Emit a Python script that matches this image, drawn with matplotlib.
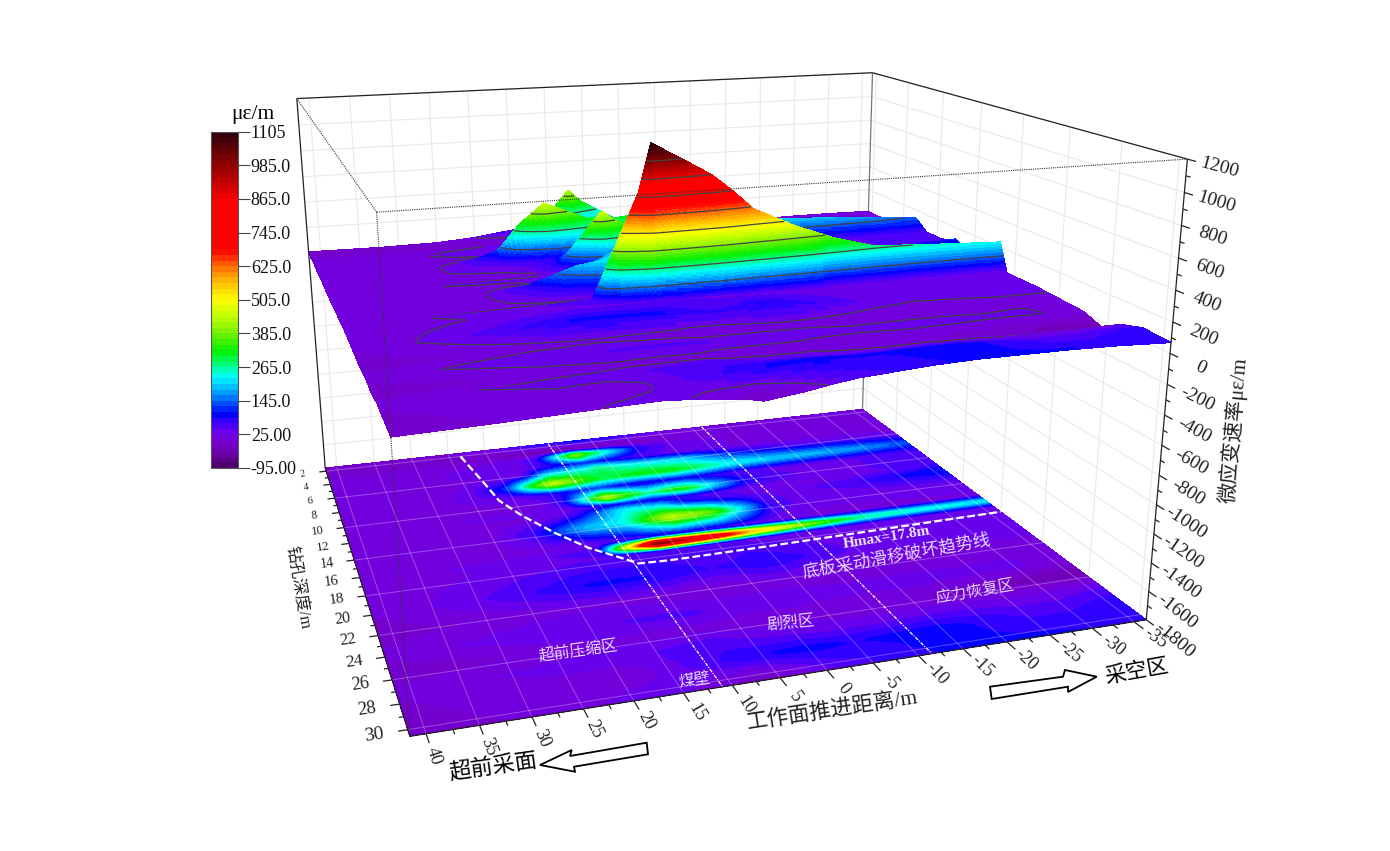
import numpy as np
import matplotlib
matplotlib.use('Agg')
import matplotlib.pyplot as plt
from matplotlib.cm import ScalarMappable
from matplotlib.colors import BoundaryNorm, LinearSegmentedColormap
from matplotlib.patches import Polygon
from mpl_toolkits.mplot3d import Axes3D  # noqa: F401
from mpl_toolkits.mplot3d.art3d import Line3DCollection

plt.rcParams['font.family'] = ['Liberation Serif', 'Noto Sans CJK SC']

W, H = 1390, 851

# advance distance (m) and borehole depth (m) of the measured grid
advance = [41.5, 32, 25, 20, 17, 14, 8.5, 7, 3, 0, -2.5, -5, -10, -15, -20, -25, -30, -36.5]
depth = [1.5, 2.8, 3.7, 5, 6, 7.5, 8.8, 10.2, 11.2, 12, 13.6, 15.7, 16.5, 17.3, 20, 22, 24, 25.5, 27, 28.5, 30.5]

# strain rate, one row per depth
strain = np.array([
    [5, 0, 5, 25, 50, 70, 90, 95, 80, 60, 40, 30, 15, 10, 10, 15, 15, 10],
    [0, -5, -10, -15, -25, -40, -45, -40, -30, -20, -10, 0, 5, 5, 10, 10, 10, 5],
    [10, 15, 20, 25, 35, 60, 430, 340, 200, 90, 60, 40, 30, 20, 15, 20, 20, 15],
    [10, 15, 30, 35, 30, 60, 100, 90, 60, 50, 40, 35, 30, 20, 20, 20, 20, 15],
    [5, 15, 20, 25, 40, 190, 240, 280, 230, 210, 205, 195, 120, 80, 60, 50, 40, 30],
    [10, 15, 30, 120, 320, 460, 320, 300, 320, 330, 320, 300, 240, 215, 200, 190, 170, 135],
    [5, 10, 30, 35, 60, 80, 110, 90, 60, 70, 80, 70, 50, 40, 40, 40, 50, 60],
    [5, 5, 10, 15, 20, 80, 460, 390, 270, 330, 330, 240, 90, 50, 40, 40, 50, 60],
    [5, 20, 30, 30, 30, 35, 70, 80, 70, 60, 60, 50, 25, 20, 20, 35, 45, 70],
    [5, 10, 15, 20, 30, 60, 210, 230, 200, 120, 80, 60, 40, 40, 50, 70, 90, 110],
    [10, 15, 20, 70, 130, 190, 240, 300, 450, 420, 380, 280, 70, 30, 30, 30, 35, 40],
    [10, 10, 15, 20, 20, 25, 50, 60, 50, 40, 40, 35, 25, 20, 20, 20, 20, 20],
    [15, 25, 35, 45, 50, 60, 775, 1105, 970, 865, 745, 610, 470, 360, 280, 265, 250, 235],
    [15, 20, 30, 35, 40, 40, 45, 50, 45, 40, 40, 35, 35, 30, 30, 25, 30, 30],
    [5, 35, 60, 80, 90, 90, 85, 75, 65, 70, 85, 80, 60, 40, 30, 30, 30, 30],
    [-5, 5, 15, 20, 20, 15, 10, 5, 10, 15, 20, 20, 15, 10, 10, 15, 20, 20],
    [10, 30, 40, 40, 45, 50, 50, 45, 40, 35, 30, 30, 30, 35, 35, 30, 30, 10],
    [-10, 0, 15, 20, 20, 15, 15, 10, 10, 15, 20, 15, 10, 5, -5, -15, -30, -35],
    [10, 25, 30, 30, 35, 50, 60, 50, 40, 35, 30, 30, 30, 35, 35, 30, 30, 40],
    [0, 15, 20, 15, 20, 40, 70, 80, 90, 95, 90, 85, 90, 95, 80, 60, 60, 80],
    [-10, 5, 20, 30, 35, 25, -10, -30, 0, 30, 50, 60, 80, 90, 90, 90, 85, 70],
], dtype=float)

# white trend line on the floor map
trend_x = [23.5, 22.3, 21.8, 20.1, 17.5, 14.8, 11.9, 10.5, 6.9, -5.5, -36.5]
trend_y = [2, 6.7, 8.9, 11.2, 13.8, 16.0, 17.6, 18.4, 18.5, 18.4, 18.0]
zone_lines = [11, -11.5]

x_ticks = list(range(40, -36, -5))
y_ticks = list(range(2, 31, 2))
z_ticks = list(range(-1800, 1201, 200))
cbar_ticks = [-95, 25, 145, 265, 385, 505, 625, 745, 865, 985, 1105]
cbar_labels = ['-95.00', '25.00', '145.0', '265.0', '385.0', '505.0', '625.0', '745.0', '865.0', '985.0', '1105']

x0, x1 = advance[0], advance[-1]
y0, y1 = depth[0], depth[-1]
z0, z1 = -1800, 1200

# where the eight box corners sit in the picture, used to set up the camera
corners = [(x0, y0, z0), (x0, y1, z0), (x1, y0, z0), (x1, y1, z0),
           (x0, y0, z1), (x0, y1, z1), (x1, y0, z1), (x1, y1, z1)]
corners_px = [(325, 467), (410.5, 737), (862.5, 409.5), (1146, 620),
              (296.5, 99), (376.7, 212.3), (873, 73), (1187, 158)]


def fit_camera():
    # linear fit of a 3x4 camera matrix, scaled so the numbers stay well behaved
    scale = np.diag([1 / 78, 1 / 29, 1 / 3000, 1.0])
    rows = []
    for c, (u, v) in zip(corners, corners_px):
        p = scale @ np.array([*c, 1.0])
        u, v = u / 1000, (H - v) / 1000
        rows.append([*p, 0, 0, 0, 0, *(-u * p)])
        rows.append([0, 0, 0, 0, *p, *(-v * p)])
    cam = np.linalg.svd(np.array(rows))[2][-1].reshape(3, 4)
    cam = np.diag([1000, 1000, 1.0]) @ cam @ scale
    mid = np.array([(x0 + x1) / 2, (y0 + y1) / 2, 0, 1.0])
    return cam / (cam[2] @ mid)


camera = fit_camera()

fig = plt.figure(figsize=(W / 100, H / 100), dpi=100)
# 3d axes are forced square, so make the square cover the whole figure
ax = fig.add_axes([0, (H - W) / 2 / H, 1, W / H], projection='3d', computed_zorder=False)
ax.set_axis_off()


def get_proj():
    to_2d = ax.transData.inverted().get_matrix()
    q = to_2d @ camera
    return np.array([q[0], q[1], 2 * q[2] - [0, 0, 0, 1], q[2]])


ax.get_proj = get_proj

levels = np.arange(-95, 1106, 20)
cmap = LinearSegmentedColormap.from_list('strain', [
    (0.000, '#4c0070'), (0.040, '#7000b0'), (0.080, '#7400d8'), (0.100, '#6a00ea'),
    (0.130, '#3c00ff'), (0.155, '#0000ff'), (0.200, '#0070ff'), (0.245, '#00d0ff'),
    (0.267, '#00ffff'), (0.300, '#00ff90'), (0.345, '#00f000'), (0.400, '#78f000'),
    (0.455, '#c8ff00'), (0.500, '#ffff00'), (0.545, '#ffc800'), (0.600, '#ff6e00'),
    (0.650, '#ff0000'), (0.795, '#ff0000'), (0.900, '#960000'), (1.000, '#32000a'),
], N=60)
norm = BoundaryNorm(levels, 60)


def regrid(xnew, ynew):
    rows = np.array([np.interp(xnew, advance[::-1], r[::-1]) for r in strain])
    return np.array([np.interp(ynew, depth, rows[:, j]) for j in range(len(xnew))]).T


def smooth(a):
    # the floor map looks softer than the raised surface
    wide = np.array([1, 2, 3, 4, 3, 2, 1]) / 16
    narrow = np.array([1, 2, 1]) / 4
    a = np.apply_along_axis(lambda r: np.convolve(np.pad(r, 3, mode='edge'), wide, 'valid'), 1, a)
    return np.apply_along_axis(lambda c: np.convolve(np.pad(c, 1, mode='edge'), narrow, 'valid'), 0, a)


def lines3d(segments, **kw):
    ax.add_collection3d(Line3DCollection(segments, **kw), autolim=False)


def label(xp, yp, s, **kw):
    kw.setdefault('ha', 'center')
    kw.setdefault('va', 'center')
    fig.text(xp / W, 1 - yp / H, s, **kw)


def to_px(x, y, z):
    u, v, w = camera @ np.array([x, y, z, 1.0])
    return u / w, H - v / w


# walls
grid_kw = dict(colors='#e9e9e9', linewidths=0.8, zorder=0)
lines3d([[(x, y0, z0), (x, y0, z1)] for x in x_ticks], **grid_kw)
lines3d([[(x1, y, z0), (x1, y, z1)] for y in range(2, 31, 4)], **grid_kw)
lines3d([[(x0, y0, z), (x1, y0, z)] for z in z_ticks], **grid_kw)
lines3d([[(x1, y0, z), (x1, y1, z)] for z in z_ticks], **grid_kw)

# floor map
fx = np.linspace(x1, x0, 313)
fy = np.linspace(y0, y1, 233)
fz = smooth(regrid(fx, fy))
ax.contourf(fx, fy, fz, levels=levels, cmap=cmap, norm=norm, zdir='z', offset=z0, zorder=1)
floor_kw = dict(colors=[(1, 1, 1, 0.3)], linewidths=0.7, zorder=2)
lines3d([[(x, y0, z0), (x, y1, z0)] for x in x_ticks], **floor_kw)
lines3d([[(x0, y, z0), (x1, y, z0)] for y in range(2, 31, 4)], **floor_kw)
lines3d([[(x, y0, z0), (x, y1, z0)] for x in zone_lines], colors='white',
        linestyles=[(0, (3, 1, 1, 1))], linewidths=0.9, zorder=3)
lines3d([list(zip(trend_x, trend_y, [z0] * len(trend_x)))], colors='white',
        linestyles=[(0, (3.5, 1.5))], linewidths=1.6, zorder=3)

# raised surface, painted strip by strip from the back so the peaks hide what lies behind them
sx = np.unique(np.concatenate([np.arange(x1, 5, 0.25), np.arange(5, 15, 0.08),
                               np.arange(15, x0, 0.5), [x0], advance]))
contour_levels = np.array(cbar_ticks[:-1], dtype=float)
order = 10
for i in range(len(depth) - 1):
    span = np.abs(strain[i + 1] - strain[i]).max()
    cells = int(max(3, span / 14, (depth[i + 1] - depth[i]) / 0.3))
    sy = np.linspace(depth[i], depth[i + 1], cells + 1)
    sz = regrid(sx, sy)
    sxx, syy = np.meshgrid(sx, sy)
    ax.plot_surface(sxx, syy, sz, facecolors=cmap(norm(sz)), rstride=1, cstride=1,
                    shade=False, linewidth=0.3, antialiased=False, zorder=order)
    inside = contour_levels[(contour_levels > sz.min()) & (contour_levels < sz.max())]
    if len(inside):
        ax.contour(sx, sy, sz, levels=inside, colors='#444444', linewidths=0.9, zorder=order + 1)
    order += 2

# box outline
top = order + 5
dark = dict(colors='#222222', linewidths=0.9, zorder=top)
lines3d([[(x0, y0, z0), (x0, y0, z1)], [(x0, y0, z1), (x1, y0, z1)], [(x1, y0, z1), (x1, y1, z1)],
         [(x1, y1, z1), (x1, y1, z0)], [(x0, y1, z0), (x1, y1, z0)], [(x0, y0, z0), (x0, y1, z0)]], **dark)
lines3d([[(x1, y0, z0), (x1, y0, z1)]], colors='#777777', linewidths=0.9, zorder=5)
lines3d([[(x0, y0, z1), (x0, y1, z1)], [(x0, y1, z1), (x1, y1, z1)], [(x0, y1, z1), (x0, y1, z0)]],
        colors='#333333', linewidths=0.8, linestyles=[(0, (1, 1))], zorder=top)

# ticks and their labels
lines3d([[(x, y1, z0), (x, y1 + 0.7, z0)] for x in x_ticks], **dark)
lines3d([[(x, y1, z0), (x, y1 + 0.35, z0)] for x in np.arange(37.5, -36, -5)], **dark)
lines3d([[(x0, y, z0), (x0 + 0.9, y, z0)] for y in y_ticks], **dark)
lines3d([[(x0, y, z0), (x0 + 0.45, y, z0)] for y in range(3, 30, 2)], **dark)
lines3d([[(x1, y1, z), (x1, y1 + 0.55, z)] for z in z_ticks], **dark)
lines3d([[(x1, y1, z), (x1, y1 + 0.3, z)] for z in range(-1700, 1200, 200)], **dark)

for x in x_ticks:
    label(*to_px(x, y1 + 1.6, z0), str(x), rotation=-35 - (x + 35) * 37 / 75, fontsize=13, color='#222222')
for y in y_ticks:
    label(*to_px(x0 + 3.1, y, z0), str(y), rotation=8, fontsize=7 + (y - 2) / 28 * 7, color='#222222')
for z in z_ticks:
    label(*to_px(x1, y1 + 2.0, z), str(z), rotation=-15 - (1200 - z) * 25 / 3000, fontsize=14, color='#222222')

# axis titles and notes
label(298, 587, '钻孔深度/m', rotation=-80, fontsize=12, color='#222222')
label(1234, 430, '微应变速率με/m', rotation=85, fontsize=15, color='#222222')
label(832, 711, '工作面推进距离/m', rotation=8.7, fontsize=15.5, color='#222222')
label(493, 768, '超前采面', rotation=8, fontsize=16, color='black')
label(1137, 672, '采空区', rotation=10, fontsize=15.5, color='black')
label(252.5, 114, 'με/m', fontsize=15.5, color='black')

note = '#e6d8ff'
label(578, 652, '超前压缩区', rotation=8, fontsize=11.5, color=note)
label(695, 681, '煤壁', rotation=8, fontsize=11.5, color=note)
label(791, 623, '剧烈区', rotation=6, fontsize=11.5, color=note)
label(975, 592, '应力恢复区', rotation=10, fontsize=11.5, color=note)
label(897, 557, '底板采动滑移破坏趋势线', rotation=10, fontsize=12.5, color=note)
label(887, 538, 'Hmax=17.8m', rotation=9, fontsize=11, fontweight='bold', color='#f0e8ff')

# hollow arrows
arrow_left = [(540, 765), (571.7, 750), (570, 756), (646.7, 742.7), (648, 754.3), (574, 766.7), (575, 771.7)]
arrow_right = [(1096.7, 676.7), (1065, 670), (1063, 676.7), (990, 686.7), (991.7, 699), (1068, 686.7), (1068, 692)]
for pts in (arrow_left, arrow_right):
    fig.add_artist(Polygon([(a / W, 1 - b / H) for a, b in pts], closed=True, facecolor='white',
                           edgecolor='black', lw=1.3, transform=fig.transFigure))

# colour bar
cax = fig.add_axes([211 / W, 1 - 468 / H, 27.3 / W, 336.3 / H])
cb = fig.colorbar(ScalarMappable(norm=norm, cmap=cmap), cax=cax, ticks=cbar_ticks, spacing='uniform')
cb.set_ticklabels(cbar_labels)
cb.minorticks_off()
cb.outline.set_edgecolor('#555555')
cb.outline.set_linewidth(0.8)
cax.tick_params(length=8.5, width=0.8, color='#444444', labelsize=13, pad=0.5, labelcolor='#111111')

fig.savefig('out.png', dpi=100)
